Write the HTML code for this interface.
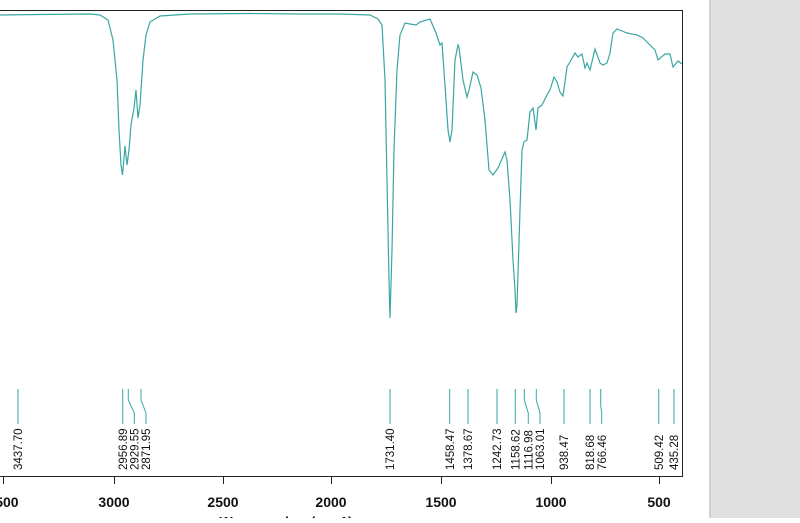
<!DOCTYPE html>
<html><head><meta charset="utf-8"><style>
body{margin:0;width:800px;height:518px;overflow:hidden;background:#fff;font-family:"Liberation Sans",Arial,sans-serif}
</style></head><body>
<svg width="800" height="518" viewBox="0 0 800 518" xmlns="http://www.w3.org/2000/svg">
<rect x="0" y="0" width="800" height="518" fill="#fff"/>
<rect x="710" y="0" width="90" height="518" fill="#e0e0e0"/>
<rect x="709" y="0" width="2" height="518" fill="#d2d2d2"/>
<polyline points="0,10.5 682.5,10.5 682.5,476.5 0,476.5" fill="none" stroke="#222" stroke-width="1"/>
<g stroke="#222" stroke-width="1">
<line x1="3.5" y1="476" x2="3.5" y2="484"/>
<line x1="114.5" y1="476" x2="114.5" y2="484"/>
<line x1="223.5" y1="476" x2="223.5" y2="484"/>
<line x1="331.5" y1="476" x2="331.5" y2="484"/>
<line x1="441.5" y1="476" x2="441.5" y2="484"/>
<line x1="551.5" y1="476" x2="551.5" y2="484"/>
<line x1="659.5" y1="476" x2="659.5" y2="484"/>
</g>
<g font-size="14" font-weight="bold" fill="#111" text-anchor="middle">
<text x="3" y="507">3500</text>
<text x="114" y="507">3000</text>
<text x="223" y="507">2500</text>
<text x="331" y="507">2000</text>
<text x="441" y="507">1500</text>
<text x="551" y="507">1000</text>
<text x="659" y="507">500</text>
<text x="286" y="526.5" font-size="14">Wavenumber (cm-1)</text>
</g>
<polyline fill="none" stroke="#3aa6a3" stroke-width="1.2" points="0,15 40,14.5 90,14 100,15 108,20 113,40 117,80 119,130 121,165 122.5,175 125,146 127,165 129,150 131,125 134,108 136,90 138,118 140,105 143,60 146,35 150,22 160,16 175,15 190,14 250,13.5 300,14 340,14 370,15 378,19 382,25 385,80 387,180 389,280 390,318 392,250 394,150 397,70 400,35 405,23 410,24 416,25 420,22 430,19 436,33 440,45 442,43 446,100 448,130 450,142 452,130 455,60 458,45 459,47 463,80 467,97 469,90 473,72 477,75 481,88 485,120 489,170 493,175 498,168 505,152 507,160 510,200 513,260 515,290 516,313 517,305 520,210 522,150 524,142 527,140 530,112 533,108 536,130 538,108 542,105 548,93 550,90 554,77 557,82 560,92 563,96 567,67 570,62 575,53 578,57 582,54 585,68 587,63 590,70 595,49 600,63 603,65 607,63 610,53 613,33 617,29 622,31 627,33 637,35 643,38 650,45 655,50 658,60 665,54 670,54 673,67 678,61 682,64"/>
<g fill="none" stroke="#3aa6a3" stroke-width="1">
<polyline points="18,389 18,424"/>
<polyline points="122.7,389 122.7,424"/>
<polyline points="128.3,389 128.3,400 134.3,413 134.3,424"/>
<polyline points="141,389 141,400 146,413 146,424"/>
<polyline points="390,389 390,424"/>
<polyline points="449.7,389 449.7,424"/>
<polyline points="468,389 468,424"/>
<polyline points="497,389 497,424"/>
<polyline points="515.3,389 515.3,424"/>
<polyline points="524.3,389 524.3,400 528.3,413 528.3,424"/>
<polyline points="536.3,389 536.3,400 540,413 540,424"/>
<polyline points="564,389 564,424"/>
<polyline points="590,389 590,424"/>
<polyline points="600.7,389 600.7,405 601.7,413 601.7,424"/>
<polyline points="658.7,389 658.7,424"/>
<polyline points="674,389 674,424"/>
</g>
<g font-size="11.5" fill="#111">
<text transform="translate(22,470) rotate(-90)">3437.70</text>
<text transform="translate(127,470) rotate(-90)">2956.89</text>
<text transform="translate(138.5,470) rotate(-90)">2929.55</text>
<text transform="translate(150,470) rotate(-90)">2871.95</text>
<text transform="translate(394,470) rotate(-90)">1731.40</text>
<text transform="translate(454,470) rotate(-90)">1458.47</text>
<text transform="translate(472,470) rotate(-90)">1378.67</text>
<text transform="translate(501,470) rotate(-90)">1242.73</text>
<text transform="translate(519.5,470) rotate(-90)">1158.62</text>
<text transform="translate(532.5,470) rotate(-90)">1116.98</text>
<text transform="translate(544,470) rotate(-90)">1063.01</text>
<text transform="translate(568,470) rotate(-90)">938.47</text>
<text transform="translate(594,470) rotate(-90)">818.68</text>
<text transform="translate(606,470) rotate(-90)">766.46</text>
<text transform="translate(663,470) rotate(-90)">509.42</text>
<text transform="translate(678,470) rotate(-90)">435.28</text>
</g>
</svg>
</body></html>
